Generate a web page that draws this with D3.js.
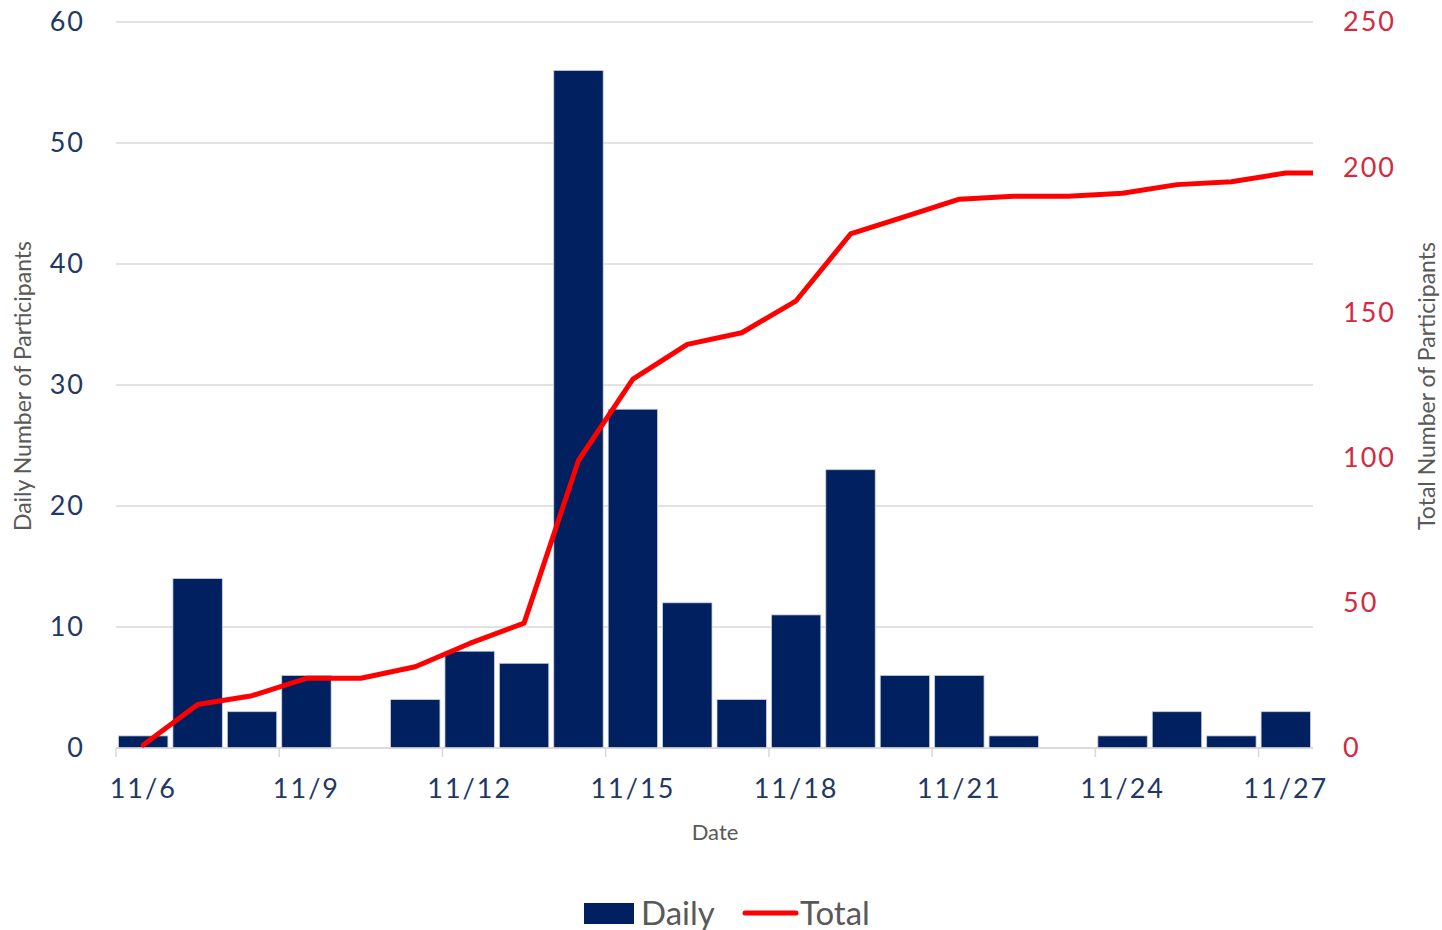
<!DOCTYPE html>
<html>
<head>
<meta charset="utf-8">
<script src="https://cdn.jsdelivr.net/npm/d3@7"></script>
<style>
  body { margin: 0; background: #fff; }
  svg { font-family: Lato, "Open Sans", sans-serif; overflow: visible; }
</style>
</head>
<body>
<svg width="1442" height="930"></svg>
<script>
  const dates = ['11/6','11/7','11/8','11/9','11/10','11/11','11/12','11/13','11/14','11/15','11/16',
    '11/17','11/18','11/19','11/20','11/21','11/22','11/23','11/24','11/25','11/26','11/27'];
  const daily = [1, 14, 3, 6, 0, 4, 8, 7, 56, 28, 12, 4, 11, 23, 6, 6, 1, 0, 1, 3, 1, 3];
  const total = [1, 15, 18, 24, 24, 28, 36, 43, 99, 127, 139, 143, 154, 177, 183, 189, 190, 190, 191, 194, 195, 198];
  const leftTicks = [0, 10, 20, 30, 40, 50, 60];
  const rightTicks = [0, 50, 100, 150, 200, 250];

  const svg = d3.select('svg');
  const margin = { top: 22, right: 129, bottom: 182, left: 116 };
  const width = 1442, height = 930;
  const innerWidth = width - margin.left - margin.right;
  const innerHeight = height - margin.top - margin.bottom;

  const navy = '#002060';
  const labelNavy = '#1f3864';
  const crimson = '#d42a41';
  const gray = '#595959';

  const x = d3.scaleBand().domain(dates).range([0, innerWidth]);
  const xStep = x.step();
  const yL = d3.scaleLinear().domain([0, 60]).range([innerHeight, 0]);
  const yR = d3.scaleLinear().domain([0, 250]).range([innerHeight, 0]);

  svg.append('defs').append('clipPath').attr('id', 'plot')
    .append('rect').attr('width', innerWidth).attr('height', innerHeight + 4).attr('y', -4);

  const g = svg.append('g').attr('transform', `translate(${margin.left},${margin.top})`);

  // gridlines
  g.selectAll('.grid').data(leftTicks).enter().append('line')
    .attr('x1', 0).attr('x2', innerWidth)
    .attr('y1', d => yL(d)).attr('y2', d => yL(d))
    .attr('stroke', '#d9d9d9').attr('stroke-width', 1.5);

  // bars
  g.selectAll('.bar').data(daily).enter().append('rect')
    .attr('x', (d, i) => x(dates[i]) + 2.5)
    .attr('width', xStep - 5)
    .attr('y', d => yL(d))
    .attr('height', d => innerHeight - yL(d))
    .attr('fill', navy)
    .attr('stroke', '#c9d0dc').attr('stroke-width', 0.8);

  // x axis
  g.append('line').attr('x1', 0).attr('x2', innerWidth).attr('y1', innerHeight).attr('y2', innerHeight)
    .attr('stroke', '#d9d9d9').attr('stroke-width', 1.5);
  const tickDates = dates.filter((d, i) => i % 3 === 0);
  g.selectAll('.xtick').data(tickDates).enter().append('line')
    .attr('x1', d => x(d)).attr('x2', d => x(d))
    .attr('y1', innerHeight).attr('y2', innerHeight + 9)
    .attr('stroke', '#d9d9d9').attr('stroke-width', 1.5);
  g.selectAll('.xlab').data(tickDates).enter().append('text')
    .attr('x', d => x(d) + xStep / 2)
    .attr('y', innerHeight + 50)
    .attr('text-anchor', 'middle')
    .attr('fill', labelNavy)
    .attr('font-size', 27)
    .attr('letter-spacing', 2)
    .text(d => d);

  // total line
  const linePts = total.map((v, i) => [x(dates[i]) + xStep / 2, yR(v)]);
  linePts.push([innerWidth, yR(total[total.length - 1])]);
  g.append('path')
    .attr('clip-path', 'url(#plot)')
    .attr('d', d3.line()(linePts))
    .attr('fill', 'none')
    .attr('stroke', '#ff0000')
    .attr('stroke-width', 5)
    .attr('stroke-linejoin', 'round')
    .attr('stroke-linecap', 'round');

  // left axis labels
  g.selectAll('.ylab').data(leftTicks).enter().append('text')
    .attr('x', -31).attr('y', d => yL(d)).attr('dy', '0.35em')
    .attr('text-anchor', 'end').attr('fill', labelNavy).attr('font-size', 27)
    .attr('letter-spacing', 2)
    .text(d => d);

  // right axis labels
  g.selectAll('.yrlab').data(rightTicks).enter().append('text')
    .attr('x', innerWidth + 30).attr('y', d => yR(d)).attr('dy', '0.35em')
    .attr('text-anchor', 'start').attr('fill', crimson).attr('font-size', 27)
    .attr('letter-spacing', 2)
    .text(d => d);

  // axis titles
  svg.append('text')
    .attr('transform', `translate(31,386) rotate(-90)`)
    .attr('text-anchor', 'middle').attr('fill', gray).attr('font-size', 23)
    .text('Daily Number of Participants');
  svg.append('text')
    .attr('transform', `translate(1435,386) rotate(-90)`)
    .attr('text-anchor', 'middle').attr('fill', gray).attr('font-size', 23)
    .text('Total Number of Participants');
  svg.append('text')
    .attr('x', 715).attr('y', 840)
    .attr('text-anchor', 'middle').attr('fill', gray).attr('font-size', 22)
    .text('Date');

  // legend
  const leg = svg.append('g').attr('transform', 'translate(584,913)');
  leg.append('rect').attr('x', 0).attr('y', -10).attr('width', 50).attr('height', 21).attr('fill', navy);
  leg.append('text').attr('x', 57).attr('y', 0).attr('dy', '0.35em')
    .attr('fill', gray).attr('font-size', 33).text('Daily');
  leg.append('line').attr('x1', 161).attr('x2', 212).attr('y1', 0).attr('y2', 0)
    .attr('stroke', '#ff0000').attr('stroke-width', 5).attr('stroke-linecap', 'round');
  leg.append('text').attr('x', 216).attr('y', 0).attr('dy', '0.35em')
    .attr('fill', gray).attr('font-size', 33).text('Total');
</script>
</body>
</html>
